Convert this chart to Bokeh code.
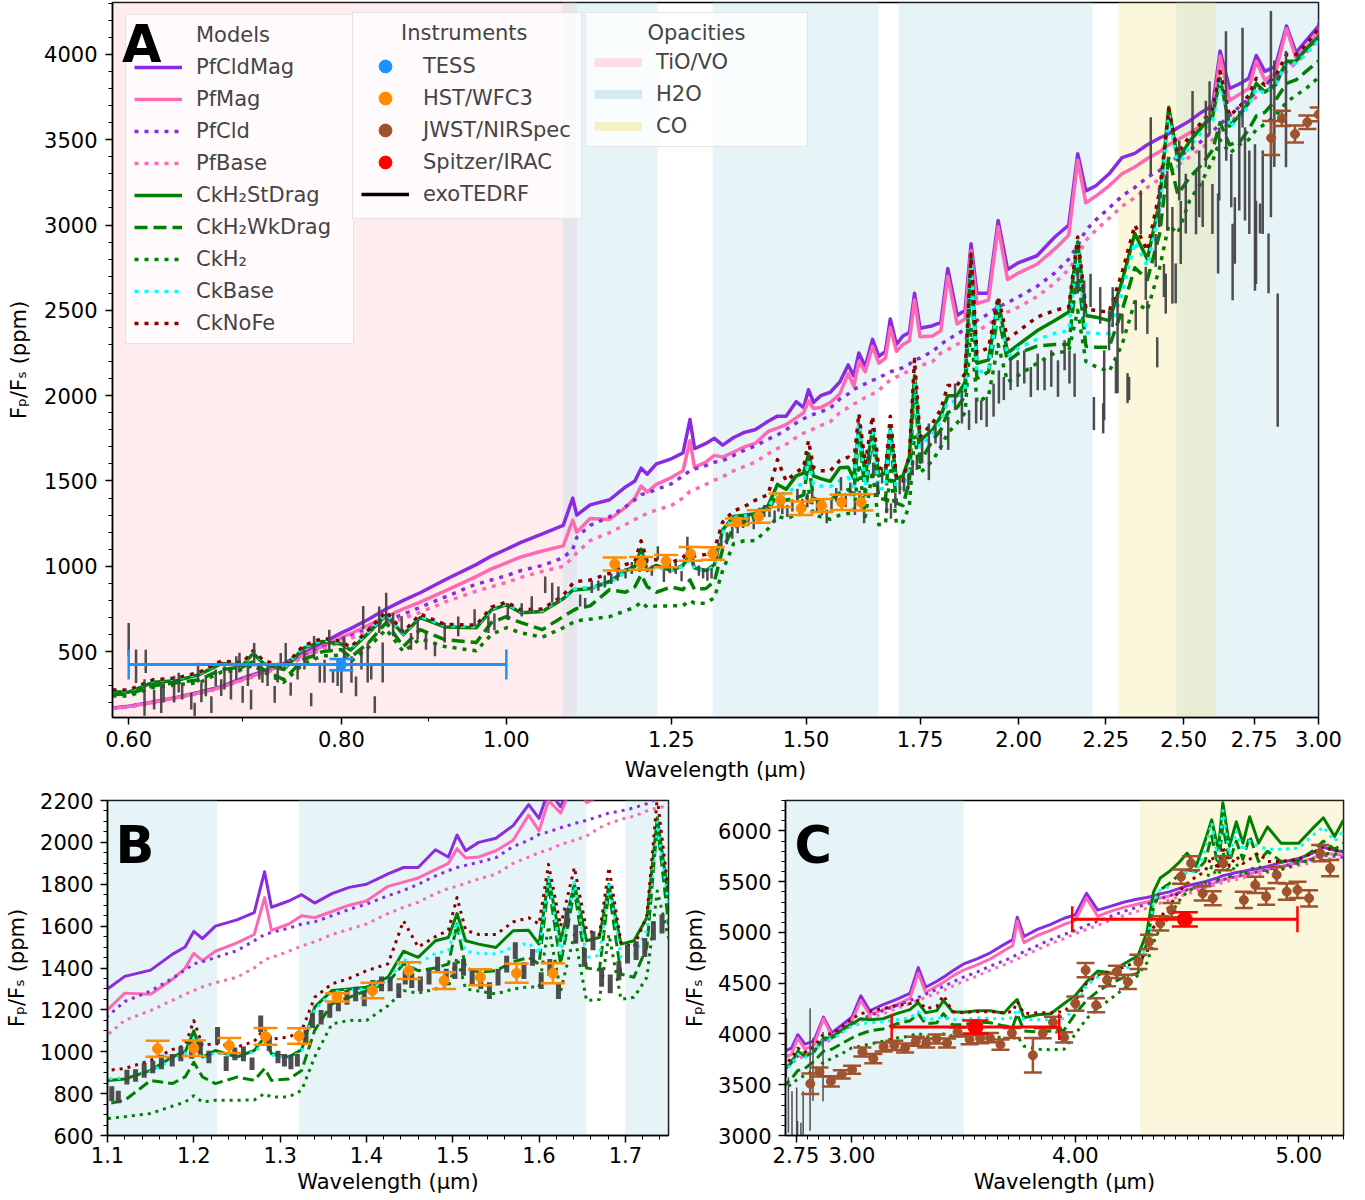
import math
from bokeh.plotting import figure
from bokeh.models import (ColumnDataSource, Legend, LegendItem, Label, FixedTicker,
                          SingleIntervalTicker, NumeralTickFormatter, Range1d)
from bokeh.layouts import column, row
from bokeh.embed import file_html
from bokeh.resources import INLINE

FONT = "DejaVu Sans"
NAN = float("nan")

# ---------------------------------------------------------------- model spectra
wave_model = [
    0.587, 0.60, 0.62, 0.64, 0.66, 0.68, 0.70, 0.71, 0.72, 0.74, 0.76, 0.78, 0.80, 0.81,
    0.83, 0.85, 0.87, 0.89, 0.92, 0.96, 0.98, 1.00, 1.02, 1.05, 1.08, 1.094, 1.10,
    1.12, 1.15, 1.175, 1.19, 1.20, 1.21, 1.225, 1.25, 1.27, 1.282, 1.29, 1.31, 1.325, 1.34,
    1.36, 1.38, 1.40, 1.425, 1.443, 1.46, 1.48, 1.495, 1.505, 1.515, 1.53, 1.55, 1.57, 1.588,
    1.60, 1.611, 1.625, 1.641, 1.655, 1.67, 1.681, 1.695, 1.71, 1.725, 1.737, 1.75,
    1.78, 1.80, 1.817, 1.84, 1.86, 1.875, 1.89, 1.92, 1.945, 1.97, 2.00, 2.05, 2.10, 2.14,
    2.166, 2.19, 2.22, 2.26, 2.30, 2.34, 2.38, 2.42, 2.45, 2.48, 2.52, 2.56, 2.60, 2.626,
    2.66, 2.70, 2.73, 2.758, 2.79, 2.83, 2.873, 2.91, 2.95, 3.00,
    3.04, 3.08, 3.14, 3.20, 3.26, 3.297, 3.33, 3.38, 3.41, 3.45, 3.50, 3.56, 3.62, 3.68,
    3.72, 3.74, 3.77, 3.83, 3.89, 3.95, 4.00, 4.05, 4.10, 4.16, 4.22, 4.28, 4.32, 4.35,
    4.38, 4.42, 4.46, 4.50, 4.54, 4.58, 4.61, 4.64, 4.66, 4.69, 4.72, 4.75, 4.78, 4.82,
    4.86, 4.92, 5.00, 5.06, 5.11, 5.16, 5.20]

pf_cld_mag = [
    170, 180, 205, 232, 262, 295, 345, 365, 385, 430, 490, 550, 610, 635,
    690, 750, 800, 845, 920, 1010, 1060, 1100, 1140, 1190, 1240, 1400, 1300,
    1360, 1390, 1465, 1500, 1575, 1540, 1600, 1630, 1665, 1860, 1690, 1720, 1750, 1710,
    1755, 1785, 1800, 1850, 1880, 1880, 1965, 1930, 2035, 1960, 2000, 2020, 2080, 2180,
    2115, 2250, 2170, 2330, 2230, 2260, 2450, 2300, 2350, 2370, 2600, 2395,
    2410, 2430, 2745, 2470, 2500, 2890, 2600, 2600, 3026, 2740, 2780, 2820, 2930, 3000,
    3418, 3200, 3230, 3300, 3395, 3420, 3470, 3510, 3535, 3570, 3610, 3660, 3700, 4020,
    3800, 3830, 3860, 3993, 3900, 3930, 4166, 4010, 4080, 4165,
    4376, 4229, 4290, 4340, 4400, 4654, 4460, 4520, 4560, 4620, 4690, 4740, 4800, 4880,
    4930, 5150, 4960, 5030, 5080, 5140, 5175, 5385, 5220, 5260, 5300, 5330, 5345, 5360,
    5380, 5400, 5430, 5460, 5480, 5500, 5520, 5540, 5560, 5575, 5590, 5600, 5615, 5630,
    5650, 5690, 5730, 5780, 5840, 5810, 5795]

pf_mag = [
    168, 178, 203, 230, 258, 290, 338, 358, 378, 422, 478, 530, 585, 605,
    655, 705, 750, 790, 855, 940, 985, 1020, 1055, 1090, 1120, 1270, 1200,
    1280, 1275, 1345, 1400, 1470, 1435, 1480, 1520, 1560, 1736, 1580, 1610, 1650, 1640,
    1670, 1700, 1720, 1790, 1810, 1830, 1870, 1900, 1970, 1925, 1930, 1960, 2010, 2130,
    2055, 2200, 2140, 2290, 2190, 2220, 2400, 2260, 2300, 2320, 2560, 2345,
    2350, 2380, 2700, 2420, 2450, 2850, 2540, 2560, 2990, 2680, 2720, 2770, 2860, 2940,
    3380, 3130, 3170, 3230, 3300, 3340, 3390, 3430, 3470, 3500, 3540, 3580, 3640, 3990,
    3730, 3770, 3800, 3960, 3850, 3890, 4150, 3980, 4040, 4130,
    4330, 4190, 4240, 4290, 4350, 4600, 4410, 4470, 4510, 4570, 4630, 4680, 4740, 4820,
    4870, 5110, 4900, 4970, 5020, 5080, 5120, 5340, 5160, 5210, 5250, 5280, 5300, 5320,
    5340, 5360, 5390, 5420, 5440, 5460, 5480, 5500, 5520, 5535, 5550, 5565, 5580, 5600,
    5620, 5650, 5690, 5730, 5780, 5770, 5760]

pf_cld = [
    168, 178, 202, 229, 258, 290, 338, 357, 377, 420, 472, 525, 570, 590,
    635, 680, 720, 760, 820, 895, 920, 945, 975, 1005, 1050, 1100, 1170,
    1240, 1290, 1350, 1390, 1420, 1430, 1450, 1483, 1530, 1560, 1570, 1590, 1610, 1620,
    1650, 1680, 1705, 1745, 1770, 1800, 1840, 1865, 1880, 1890, 1905, 1927, 1980, 2010,
    2038, 2050, 2070, 2090, 2105, 2125, 2140, 2150, 2165, 2185, 2210, 2220,
    2260, 2300, 2330, 2360, 2390, 2420, 2440, 2480, 2520, 2545, 2580, 2640, 2720, 2800,
    2880, 2970, 3030, 3100, 3170, 3220, 3280, 3320, 3360, 3400, 3440, 3490, 3550, 3590,
    3640, 3700, 3740, 3780, 3820, 3870, 3930, 3980, 4040, 4110,
    4150, 4180, 4230, 4280, 4330, 4360, 4390, 4440, 4470, 4510, 4560, 4610, 4670, 4720,
    4760, 4780, 4810, 4870, 4930, 4980, 5020, 5070, 5110, 5160, 5210, 5250, 5280, 5300,
    5330, 5360, 5390, 5420, 5450, 5470, 5490, 5510, 5520, 5540, 5550, 5565, 5580, 5600,
    5620, 5650, 5690, 5720, 5760, 5750, 5740]

pf_base = [
    166, 176, 200, 227, 255, 287, 333, 352, 372, 414, 465, 515, 560, 578,
    620, 660, 695, 730, 790, 855, 880, 905, 935, 970, 1000, 1050, 1080,
    1150, 1197, 1245, 1275, 1292, 1310, 1330, 1356, 1400, 1440, 1450, 1480, 1505, 1525,
    1560, 1585, 1610, 1660, 1690, 1715, 1755, 1780, 1790, 1805, 1825, 1848, 1900, 1930,
    1951, 1965, 1990, 2010, 2030, 2070, 2090, 2110, 2125, 2150, 2165, 2175,
    2200, 2250, 2270, 2300, 2330, 2350, 2375, 2420, 2460, 2490, 2520, 2580, 2660, 2740,
    2820, 2910, 2970, 3040, 3110, 3160, 3220, 3270, 3310, 3350, 3400, 3450, 3500, 3550,
    3600, 3660, 3710, 3750, 3790, 3840, 3900, 3950, 4010, 4090,
    4130, 4160, 4200, 4250, 4300, 4330, 4360, 4400, 4430, 4470, 4520, 4570, 4630, 4680,
    4720, 4740, 4770, 4830, 4890, 4940, 4990, 5030, 5070, 5120, 5170, 5210, 5240, 5270,
    5290, 5320, 5350, 5380, 5410, 5440, 5460, 5480, 5490, 5510, 5520, 5540, 5550, 5570,
    5590, 5620, 5660, 5690, 5730, 5720, 5720]

ck_h2_st_drag = [
    265, 262, 320, 330, 365, 430, 420, 490, 430, 395, 520, 560, 545, 510,
    610, 715, 600, 700, 645, 640, 745, 775, 728, 735, 810, 860, 863,
    870, 911, 975, 1000, 1100, 975, 1006, 975, 1006, 1070, 990, 975, 1010, 1213,
    1292, 1300, 1308, 1356, 1480, 1451, 1530, 1546, 1660, 1530, 1514, 1498, 1578, 1580,
    1514, 1832, 1530, 1800, 1530, 1546, 1800, 1514, 1530, 1641, 2117, 1737,
    1800, 1880, 2000, 2000, 2080, 2800, 2190, 2210, 2560, 2250, 2300, 2380, 2440, 2490,
    2900, 2470, 2460, 2440, 2670, 2950, 2800, 3140, 3690, 3380, 3490, 3570, 3640, 3860,
    3580, 3650, 3720, 3830, 3780, 3820, 3960, 3960, 4030, 4100,
    4150, 4140, 4150, 4200, 4240, 4310, 4210, 4230, 4330, 4220, 4215, 4229, 4229, 4205,
    4300, 4340, 4160, 4190, 4200, 4300, 4380, 4513, 4620, 4600, 4695, 4770, 5000, 5400,
    5537, 5600, 5680, 5781, 5650, 5900, 6109, 5813, 6277, 5850, 6090, 5880, 6140, 5880,
    6040, 5880, 5880, 6020, 6130, 5945, 6109]

ck_h2_wk_drag = [
    249, 250, 300, 318, 335, 395, 410, 442, 395, 336, 453, 500, 512, 465,
    553, 670, 529, 629, 570, 553, 670, 705, 670, 629, 705, 740, 752,
    768, 863, 848, 880, 950, 880, 848, 879, 863, 920, 863, 870, 911, 1102,
    1229, 1260, 1292, 1330, 1420, 1387, 1400, 1419, 1610, 1400, 1380, 1387, 1430, 1450,
    1419, 1800, 1420, 1770, 1400, 1390, 1770, 1370, 1356, 1500, 2086, 1610,
    1740, 1800, 1900, 1930, 2000, 2700, 2100, 2140, 2480, 2200, 2250, 2290, 2300, 2300,
    2750, 2290, 2284, 2284, 2500, 2750, 2680, 2950, 3400, 3180, 3280, 3350, 3440, 3600,
    3470, 3494, 3560, 3640, 3660, 3730, 3830, 3850, 3900, 3961,
    4000, 4030, 4050, 4100, 4130, 4200, 4100, 4110, 4200, 4090, 4090, 4120, 4110, 4080,
    4070, 4200, 4030, 4020, 4030, 4040, 4200, 4330, 4420, 4500, 4560, 4600, 4900, 5250,
    5420, 5480, 5560, 5620, 5600, 5700, 5950, 5650, 6050, 5700, 5900, 5720, 5950, 5700,
    5800, 5700, 5710, 5800, 5900, 5820, 5880]

ck_h2 = [
    240, 240, 290, 305, 318, 380, 395, 420, 380, 320, 430, 475, 480, 440,
    525, 630, 500, 575, 530, 505, 600, 640, 610, 585, 640, 670, 681,
    690, 705, 740, 760, 790, 760, 768, 768, 770, 800, 784, 784, 816, 975,
    1133, 1150, 1149, 1220, 1292, 1280, 1300, 1308, 1450, 1300, 1290, 1276, 1300, 1310,
    1308, 1600, 1290, 1560, 1244, 1250, 1560, 1250, 1260, 1356, 1768, 1546,
    1620, 1700, 1780, 1840, 1900, 2400, 1960, 2000, 2300, 2080, 2120, 2190, 2250, 2260,
    2500, 2200, 2170, 2140, 2300, 2550, 2500, 2750, 3000, 2950, 3143, 3250, 3377, 3500,
    3420, 3475, 3500, 3560, 3591, 3640, 3720, 3760, 3800, 3864,
    3880, 3900, 3930, 3960, 3980, 4010, 3970, 3980, 4000, 3980, 3980, 3990, 3980, 3960,
    3950, 3980, 3880, 3850, 3845, 3850, 4000, 4150, 4250, 4350, 4450, 4580, 4700, 4900,
    5050, 5150, 5300, 5400, 5450, 5480, 5650, 5520, 5800, 5550, 5680, 5560, 5620, 5650,
    5600, 5620, 5680, 5720, 5780, 5770, 5800]

ck_base = [
    272, 270, 330, 340, 372, 440, 428, 500, 440, 402, 528, 568, 553, 518,
    618, 722, 606, 708, 652, 647, 752, 782, 735, 742, 815, 865, 870,
    875, 905, 965, 990, 1060, 970, 995, 975, 1000, 1040, 985, 970, 1000, 1200,
    1285, 1295, 1300, 1340, 1440, 1420, 1470, 1483, 1620, 1480, 1470, 1467, 1500, 1520,
    1467, 1840, 1470, 1810, 1451, 1460, 1810, 1451, 1460, 1580, 2100, 1700,
    1780, 1850, 1960, 1970, 2040, 2780, 2130, 2160, 2540, 2230, 2280, 2330, 2365, 2380,
    2880, 2370, 2365, 2365, 2600, 2900, 2760, 3100, 3650, 3340, 3460, 3540, 3610, 3840,
    3570, 3640, 3700, 3800, 3770, 3820, 3950, 3950, 4000, 4080,
    4100, 4110, 4120, 4140, 4160, 4220, 4140, 4150, 4170, 4140, 4140, 4160, 4150, 4150,
    4160, 4250, 4140, 4140, 4140, 4150, 4250, 4480, 4560, 4600, 4640, 4700, 4880, 5300,
    5420, 5450, 5500, 5600, 5600, 5800, 6080, 5700, 6200, 5760, 6000, 5800, 5900, 5850,
    5820, 5820, 5830, 5950, 6040, 5900, 6000]

ck_no_fe = [
    275, 275, 335, 345, 378, 445, 435, 505, 448, 410, 535, 578, 560, 525,
    628, 735, 615, 720, 660, 655, 760, 790, 745, 750, 830, 900, 911,
    920, 959, 1010, 1030, 1149, 1030, 1040, 1022, 1050, 1110, 1060, 1070, 1100, 1260,
    1324, 1350, 1387, 1420, 1625, 1500, 1550, 1580, 1737, 1580, 1560, 1560, 1620, 1640,
    1610, 1895, 1600, 1880, 1580, 1560, 1880, 1520, 1500, 1650, 2213, 1760,
    1840, 1920, 2060, 2060, 2130, 2830, 2250, 2280, 2580, 2330, 2380, 2460, 2500, 2520,
    2930, 2510, 2498, 2490, 2720, 3000, 2850, 3200, 3680, 3420, 3520, 3600, 3680, 3900,
    3640, 3700, 3760, 3860, 3820, 3870, 4000, 4000, 4060, 4150,
    4200, 4220, 4250, 4280, 4300, 4330, 4250, 4270, 4380, 4220, 4210, 4220, 4220, 4210,
    4220, 4320, 4200, 4210, 4210, 4220, 4330, 4500, 4580, 4620, 4660, 4720, 4800, 5050,
    5150, 5250, 5400, 5480, 5550, 5600, 5750, 5620, 5850, 5650, 5750, 5680, 5720, 5780,
    5700, 5700, 5720, 5780, 5850, 5800, 5820]

model_names = ["PfCldMag", "PfMag", "PfCld", "PfBase", "CkH\u2082StDrag",
               "CkH\u2082WkDrag", "CkH\u2082", "CkBase", "CkNoFe"]
model_values = [pf_cld_mag, pf_mag, pf_cld, pf_base, ck_h2_st_drag,
                ck_h2_wk_drag, ck_h2, ck_base, ck_no_fe]
model_colors = ["#8A2BE2", "#FF69B4", "#8A2BE2", "#FF69B4", "#008000",
                "#008000", "#008000", "#00FFFF", "#8B0000"]
model_styles = ["solid", "solid", "dotted", "dotted", "solid",
                "dashed", "dotted", "dotted", "dotted"]

# ---------------------------------------------------------------- exoTEDRF
exo_wave = [
    0.600, 0.606, 0.613, 0.614, 0.621, 0.627, 0.629, 0.638, 0.642, 0.645,
    0.653, 0.656, 0.659, 0.662, 0.666, 0.671, 0.675, 0.680, 0.683, 0.689,
    0.694, 0.697, 0.700, 0.705, 0.708, 0.711, 0.716, 0.719, 0.724, 0.731,
    0.734, 0.737, 0.742, 0.747, 0.754, 0.761, 0.768, 0.771, 0.777, 0.782,
    0.787, 0.791, 0.796, 0.800, 0.803, 0.811, 0.816, 0.822, 0.824, 0.829,
    0.833, 0.837, 0.842, 0.846, 0.850, 0.858, 0.868, 0.879, 0.887, 0.897,
    0.908, 0.920, 0.937, 0.958, 0.976, 0.984, 1.002, 1.021, 1.035, 1.054,
    1.064, 1.073,
    1.105, 1.1125, 1.1225, 1.1325, 1.1425, 1.1525, 1.1625, 1.175, 1.185, 1.1975,
    1.2075, 1.2175, 1.2275, 1.2375, 1.2475, 1.2575, 1.2675, 1.2775, 1.2875, 1.2975,
    1.305, 1.3125, 1.32, 1.33, 1.3375, 1.3475, 1.3575, 1.3675, 1.3775, 1.3875,
    1.3975, 1.4075, 1.4175, 1.4275, 1.4375, 1.445, 1.4525, 1.4625, 1.4725, 1.4825,
    1.4925, 1.5025, 1.5125, 1.5225, 1.5325, 1.5425, 1.5525, 1.5625, 1.5725, 1.5825,
    1.5925, 1.6025, 1.6125, 1.6225, 1.6325, 1.6425, 1.6525, 1.6625, 1.6725, 1.6825,
    1.6925, 1.7025, 1.7125, 1.7225, 1.7325, 1.7425,
    1.755, 1.771, 1.787, 1.800, 1.818, 1.835, 1.852, 1.870, 1.888, 1.901,
    1.915, 1.933, 1.947, 1.960, 1.978, 1.997, 2.015, 2.033, 2.052, 2.071,
    2.090, 2.109, 2.128, 2.142, 2.157, 2.166, 2.185, 2.204, 2.214, 2.233,
    2.242, 2.245, 2.260, 2.271, 2.281, 2.286, 2.301, 2.317, 2.322, 2.343,
    2.359, 2.375, 2.380, 2.391, 2.407, 2.412, 2.418, 2.434, 2.440, 2.445,
    2.462, 2.473, 2.485, 2.490, 2.507, 2.530, 2.542, 2.553, 2.565, 2.576,
    2.589, 2.599, 2.619, 2.623, 2.647, 2.648, 2.666, 2.671, 2.679, 2.695,
    2.707, 2.716, 2.732, 2.753, 2.757, 2.772, 2.782, 2.804, 2.813, 2.826,
    2.839, 2.871]

exo_flux = [
    570, 414, 231, 443, 219, 219, 261, 280, 318, 268,
    210, 161, 377, 261, 296, 190, 346, 289, 346, 307,
    405, 436, 250, 356, 219, 482, 385, 356, 356, 250,
    377, 443, 482, 280, 385, 453, 219, 523, 377, 385,
    570, 356, 377, 336, 512, 395, 296, 453, 699, 436,
    385, 190, 687, 436, 757, 658, 658, 560, 629, 560,
    512, 611, 648, 699, 658, 675, 734, 745, 775, 892,
    845, 833,
    800, 784, 879, 887, 911, 927, 951, 959, 990, 1006,
    1022, 975, 1078, 943, 990, 990, 943, 1133, 1038, 975,
    959, 951, 959, 1070, 1149, 1165, 1197, 1229, 1260, 1276,
    1252, 1308, 1324, 1324, 1292, 1356, 1340, 1324, 1356, 1419,
    1356, 1387, 1403, 1356, 1340, 1292, 1356, 1419, 1483, 1387,
    1451, 1340, 1403, 1292, 1641, 1562, 1451, 1530, 1356, 1324,
    1387, 1467, 1483, 1498, 1578, 1610,
    1681, 1671, 1769, 1740, 1779, 1993, 1934, 1857, 1905, 1915,
    1905, 1974, 2051, 2042, 2130, 2130, 2168, 2080, 2139, 2120,
    2159, 2100, 2237, 2168, 2120, 2666, 2568, 2617, 1895, 2529,
    1867, 2061, 2383, 2519, 2110, 2307, 2422, 2044, 2042, 2471,
    3075, 2658, 2459, 3465, 2851, 2254, 3104, 2675, 2598, 3143,
    2822, 2658, 3319, 2956, 3125, 3611, 3131, 3241, 3125, 3533,
    3687, 3094, 2950, 3358, 3833, 3523, 3260, 2783, 2968, 3377,
    3864, 3300, 3192, 3044, 2898, 3038, 3192, 2775, 3650, 3652,
    2208, 3679]

exo_err = [
    98, 98, 107, 68, 58, 78, 58, 78, 58, 49,
    49, 39, 58, 58, 58, 49, 49, 49, 68, 88,
    68, 58, 49, 58, 58, 68, 49, 39, 58, 49,
    58, 49, 68, 39, 49, 58, 39, 68, 58, 68,
    58, 39, 78, 78, 78, 78, 58, 58, 68, 117,
    49, 49, 78, 117, 88, 68, 49, 49, 58, 49,
    39, 58, 58, 49, 49, 49, 49, 39, 49, 49,
    58, 49,
    35, 30, 35, 30, 35, 30, 35, 30, 35, 40,
    35, 30, 40, 35, 30, 35, 30, 40, 35, 30,
    30, 35, 30, 35, 35, 35, 35, 35, 35, 35,
    35, 35, 35, 35, 35, 35, 35, 35, 35, 35,
    40, 40, 40, 40, 40, 40, 40, 40, 40, 40,
    40, 40, 40, 40, 45, 45, 45, 45, 45, 45,
    45, 45, 45, 45, 45, 45,
    78, 166, 49, 58, 97, 78, 97, 58, 68, 58,
    88, 97, 97, 68, 97, 78, 97, 88, 107, 88,
    107, 107, 88, 97, 127, 68, 107, 97, 97, 107,
    88, 205, 117, 117, 97, 292, 58, 88, 68, 88,
    127, 97, 97, 166, 97, 88, 117, 97, 117, 175,
    283, 117, 175, 185, 175, 175, 185, 195, 136, 195,
    156, 146, 234, 214, 302, 146, 156, 224, 195, 292,
    292, 273, 244, 429, 244, 88, 244, 175, 604, 312,
    390, 341]

# ---------------------------------------------------------------- photometry / spectra points
tess_wave = [0.80]
tess_flux = [424]
tess_werr = [0.20]
tess_err = [33]

hst_wave = [1.158, 1.200, 1.241, 1.283, 1.322, 1.366, 1.407, 1.449, 1.490, 1.532, 1.574, 1.616]
hst_flux = [1014, 1017, 1030, 1073, 1075, 1260, 1292, 1387, 1340, 1356, 1375, 1375]
hst_err = [38, 37, 36, 40, 37, 20, 37, 40, 40, 38, 45, 48]

jwst_wave = [2.814, 2.855, 2.906, 2.955, 3.001, 3.047, 3.096, 3.142, 3.190, 3.238,
             3.286, 3.333, 3.379, 3.426, 3.473, 3.527, 3.574, 3.618, 3.665, 3.716,
             3.810, 3.854, 3.900, 3.950, 4.000, 4.046, 4.093, 4.142, 4.186, 4.235,
             4.282, 4.330, 4.380, 4.430, 4.473, 4.518, 4.570, 4.615, 4.662, 4.754,
             4.805, 4.854, 4.901, 4.946, 4.994, 5.046, 5.096, 5.140]
jwst_flux = [3510, 3625, 3533, 3602, 3648, 3823, 3757, 3872, 3888, 3862,
             3928, 3911, 3951, 3911, 4020, 3945, 3954, 3964, 3895, 4010,
             3790, 4007, 4115, 3967, 4300, 4629, 4283, 4530, 4612, 4513,
             4711, 4908, 5090, 5221, 5550, 5682, 5386, 5337, 5682, 5320,
             5468, 5353, 5567, 5402, 5419, 5337, 5781, 5633]
jwst_err = [100, 45, 50, 40, 40, 45, 45, 45, 45, 45,
            45, 45, 45, 45, 45, 45, 45, 45, 50, 50,
            170, 50, 55, 50, 70, 70, 70, 60, 60, 70,
            70, 70, 70, 70, 70, 70, 70, 70, 70, 80,
            80, 80, 80, 80, 80, 80, 80, 80]

spitzer_wave = [3.553, 4.490]
spitzer_flux = [4069, 5129]
spitzer_werr = [0.375, 0.504]
spitzer_err = [65, 70]

# ---------------------------------------------------------------- opacity bands
band_species = ["TiO/VO", "H2O", "H2O", "H2O", "H2O", "CO", "CO"]
band_start = [0.50, 1.079, 1.322, 1.700, 2.475, 2.288, 4.29]
band_end = [1.100, 1.227, 1.655, 2.210, 3.500, 2.610, 5.60]
band_colors = {"TiO/VO": "pink", "H2O": "lightblue", "CO": "khaki"}
opacity_names = ["TiO/VO", "H2O", "CO"]

# ---------------------------------------------------------------- tick marks
a_ticks = [0.6, 0.8, 1.0, 1.25, 1.5, 1.75, 2.0, 2.25, 2.5, 2.75, 3.0]
a_minor = [0.7, 0.9]
c_ticks = [2.75, 3.0, 4.0, 5.0]
c_minor = [round(2.75 + 0.05 * i, 2) for i in range(50)]


def style(p, xticker, xfmt, yticker, xs, ys):
    p.grid.visible = False
    p.background_fill_color = "white"
    p.border_fill_color = "white"
    p.outline_line_color = "black"
    p.outline_line_width = 1.5
    p.outline_line_alpha = 1.0
    p.xaxis.ticker = xticker
    p.xaxis.formatter = NumeralTickFormatter(format=xfmt)
    p.yaxis.ticker = yticker
    for ax in p.axis:
        ax.axis_line_width = 1.5
        ax.major_tick_line_width = 1.5
        ax.major_tick_in = 0
        ax.major_tick_out = 7
        ax.minor_tick_in = 0
        ax.minor_tick_out = 4
        ax.minor_tick_line_width = 1
        ax.major_label_text_font = FONT
        ax.major_label_text_font_size = "21px"
        ax.major_label_text_color = "black"
        ax.axis_label_text_font = FONT
        ax.axis_label_text_font_size = "21px"
        ax.axis_label_text_font_style = "normal"
        ax.axis_label_text_color = "black"
    p.xaxis.major_label_standoff = xs[0]
    p.xaxis.axis_label_standoff = xs[1]
    p.yaxis.major_label_standoff = ys[0]
    p.yaxis.axis_label_standoff = ys[1]
    p.xaxis.axis_label = "Wavelength (\u00b5m)"
    p.yaxis.axis_label = "F\u209a/F\u209b (ppm)"


def errbar(p, x, y, yerr, color, lw, cap, xerr=None, xcap=None, xlw=None):
    if xerr is not None:
        x0 = [a - b for a, b in zip(x, xerr)]
        x1 = [a + b for a, b in zip(x, xerr)]
        p.segment(x0=x0, y0=y, x1=x1, y1=y, line_color=color, line_width=xlw)
        p.scatter(x=x0 + x1, y=list(y) + list(y), marker="dash", angle=math.pi / 2,
                  size=xcap, line_color=color, line_width=lw)
    lo = [a - b for a, b in zip(y, yerr)]
    hi = [a + b for a, b in zip(y, yerr)]
    p.segment(x0=x, y0=lo, x1=x, y1=hi, line_color=color, line_width=lw)
    p.scatter(x=list(x) + list(x), y=lo + hi, marker="dash", size=cap,
              line_color=color, line_width=lw)


def draw(p, lw, exo_lw, dot, dash):
    bsrc = ColumnDataSource(dict(left=band_start, right=band_end,
                                 color=[band_colors[s] for s in band_species]))
    p.quad(left="left", right="right", bottom=-1e5, top=1e5, fill_color="color",
           fill_alpha=0.3, line_color=None, source=bsrc)
    rends = []
    for vals, col, sty in zip(model_values, model_colors, model_styles):
        pat = {"solid": "solid", "dotted": dot, "dashed": dash}[sty]
        rends.append(p.line(wave_model, vals, line_color=col, line_width=lw,
                            line_dash=pat, line_join="round"))
    lo = [a - b for a, b in zip(exo_flux, exo_err)]
    hi = [a + b for a, b in zip(exo_flux, exo_err)]
    p.segment(x0=exo_wave, y0=lo, x1=exo_wave, y1=hi, line_color="#444444",
              line_width=exo_lw, line_alpha=0.95)
    errbar(p, tess_wave, tess_flux, tess_err, "#1E90FF", 2.5, 24,
           xerr=tess_werr, xcap=30, xlw=3)
    r_tess = p.scatter(tess_wave, tess_flux, size=10, color="#1E90FF")
    errbar(p, hst_wave, hst_flux, hst_err, "darkorange", 2.5, 24)
    r_hst = p.scatter(hst_wave, hst_flux, size=10, color="darkorange")
    errbar(p, jwst_wave, jwst_flux, jwst_err, "sienna", 2.5, 18)
    r_jwst = p.scatter(jwst_wave, jwst_flux, size=9, color="sienna")
    errbar(p, spitzer_wave, spitzer_flux, spitzer_err, "red", 2.5, 26,
           xerr=spitzer_werr, xcap=26, xlw=3)
    r_spz = p.scatter(spitzer_wave, spitzer_flux, size=15, color="red")
    return rends, [r_tess, r_hst, r_jwst, r_spz]


def panel_label(p, text, x, y):
    p.add_layout(Label(x=x, y=y, x_units="screen", y_units="screen", text=text,
                       text_font=FONT, text_font_size="51px", text_font_style="bold",
                       text_color="black", text_baseline="alphabetic"))


# ---------------------------------------------------------------- panel A
pA = figure(width=1353, height=788, x_axis_type="log",
            x_range=Range1d(0.587, 3.0), y_range=Range1d(114, 4304),
            output_backend="svg", toolbar_location=None,
            min_border_left=112, min_border_right=35, min_border_top=2, min_border_bottom=71)
style(pA, FixedTicker(ticks=a_ticks, minor_ticks=a_minor), "0.00",
      SingleIntervalTicker(interval=500, num_minor_ticks=5), (6, 8), (8, 10))
rendA, instA = draw(pA, 3.5, 2.5, "4 6", "13 6")

exo_leg = pA.line(x=[NAN], y=[NAN], line_color="black", line_width=3.5)
op_leg = [pA.line(x=[NAN], y=[NAN], line_color=band_colors[n], line_alpha=0.5, line_width=9)
          for n in opacity_names]
tag_leg = pA.line(x=[NAN], y=[NAN], line_alpha=0.0)

common = dict(label_text_font=FONT, label_text_font_size="21px",
              title_text_font=FONT, title_text_font_size="21px",
              title_text_font_style="normal", border_line_color="#cccccc",
              border_line_width=1, background_fill_alpha=0.8, padding=8,
              glyph_width=48, label_standoff=14, title_standoff=5)
NB = "\u00a0"
# the "Models" heading is the first (glyph-less) row so that it sits clear of the panel letter
model_items = [LegendItem(label="Models", renderers=[tag_leg])] + \
              [LegendItem(label=n, renderers=[r]) for n, r in zip(model_names, rendA)]
leg_models = Legend(items=model_items, location=(13, 373), glyph_height=20,
                    label_height=20, spacing=8, label_width=149, **common)
inst_names = ["TESS", "HST/WFC3", "JWST/NIRSpec", "Spitzer/IRAC", "exoTEDRF"]
leg_inst = Legend(items=[LegendItem(label=n, renderers=[r]) for n, r in zip(inst_names, instA + [exo_leg])],
                  title=NB * 6 + "Instruments", location=(240, 498), glyph_height=32,
                  label_height=20, spacing=0, label_width=150, **common)
leg_op = Legend(items=[LegendItem(label=n, renderers=[r]) for n, r in zip(opacity_names, op_leg)],
                title=NB * 8 + "Opacities", location=(473, 570), glyph_height=20,
                label_height=20, spacing=8, label_width=143, **common)
# the panel letter "A" sits on top of the legend boxes, so it is drawn as a transparent legend
leg_tag = Legend(items=[LegendItem(label="A", renderers=[tag_leg])], location=(9, 643),
                 glyph_width=1, glyph_height=60, label_height=60, label_standoff=0,
                 padding=0, border_line_color=None, background_fill_alpha=0.0,
                 label_text_font=FONT, label_text_font_size="51px",
                 label_text_font_style="bold", label_text_color="black",
                 label_text_baseline="alphabetic")
for lg in (leg_models, leg_inst, leg_op, leg_tag):
    pA.add_layout(lg)

# ---------------------------------------------------------------- panel B
pB = figure(width=680, height=412, x_range=Range1d(1.1, 1.75), y_range=Range1d(600, 2200),
            output_backend="svg", toolbar_location=None,
            min_border_left=107, min_border_right=12, min_border_top=12, min_border_bottom=65)
style(pB, SingleIntervalTicker(interval=0.1, num_minor_ticks=5), "0.0",
      SingleIntervalTicker(interval=200, num_minor_ticks=4), (4, 4), (7, 8))
draw(pB, 3, 5, "3 5", "11 5")
panel_label(pB, "B", 8, 290)

# ---------------------------------------------------------------- panel C
pC = figure(width=685, height=412, x_range=Range1d(2.703, 5.2), y_range=Range1d(3000, 6300),
            output_backend="svg", toolbar_location=None,
            min_border_left=101, min_border_right=22, min_border_top=12, min_border_bottom=65)
style(pC, FixedTicker(ticks=c_ticks, minor_ticks=c_minor), "0.00",
      SingleIntervalTicker(interval=500, num_minor_ticks=5), (4, 4), (7, 8))
draw(pC, 3, 1.5, "3 5", "11 5")
panel_label(pC, "C", 9, 290)

layout = column(pA, row(pB, pC))
open("out.html", "w").write(file_html(layout, INLINE))
